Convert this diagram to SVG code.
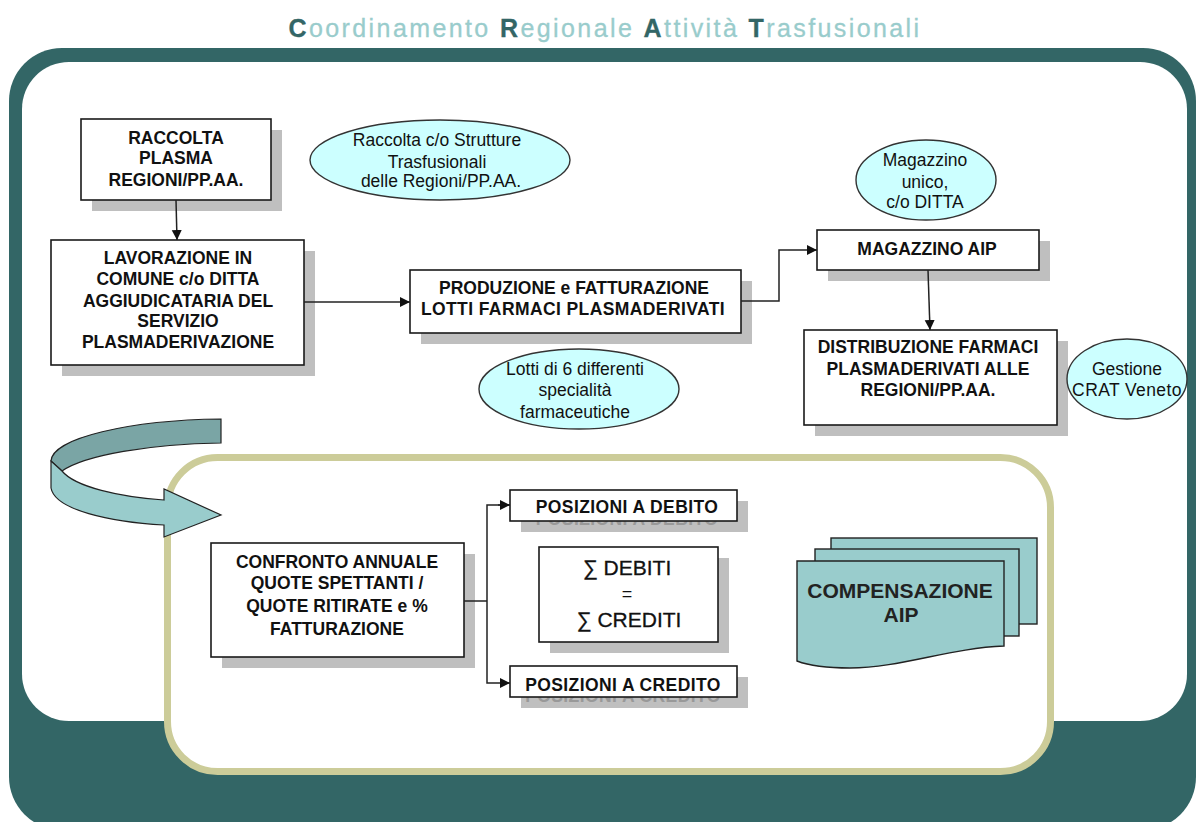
<svg xmlns="http://www.w3.org/2000/svg" width="1196" height="822" viewBox="0 0 1196 822">
<style>
text{font-family:"Liberation Sans",Arial,sans-serif;text-anchor:middle;fill:#111}
.b{font-weight:bold;font-size:17.5px}
.n{font-size:17.5px}
.w{letter-spacing:.4px}
.box{fill:#fff;stroke:#1a1a1a;stroke-width:1.6}
.sh{fill:#bfbfbf}
.el{fill:#ccffff;stroke:#333;stroke-width:1.4}
.c{fill:none;stroke:#222;stroke-width:1.5}
.doc{fill:#99cccc;stroke:#222;stroke-width:1.4}
.cap{fill:#336666;stroke:#336666;font-weight:bold}
</style>
<defs><marker id="ah" markerUnits="userSpaceOnUse" markerWidth="11" markerHeight="11" refX="10" refY="5" orient="auto"><path d="M0,0L10,5L0,10Z" fill="#111"/></marker></defs>
<rect width="1196" height="822" fill="#fff"/>
<g id="title"><text x="605" y="37" font-size="25" letter-spacing="2.4" stroke="#99cccc" stroke-width=".3" style="fill:#99cccc"><tspan class="cap">C</tspan>oordinamento <tspan class="cap">R</tspan>egionale <tspan class="cap">A</tspan>ttività <tspan class="cap">T</tspan>rasfusionali</text></g>
<g id="frame">
<rect x="9" y="48" width="1187" height="782" rx="53" fill="#336666"/>
<rect x="22" y="62" width="1165" height="659" rx="47" fill="#fff"/>
<rect x="167.500" y="457.500" width="883" height="314" rx="50" fill="#fff" stroke="#cccc99" stroke-width="7"/>
</g>
<g id="cycle-arrow">
<path d="M221,419C130,420 52,438 51,461L62,471C85,455 150,444 221,443Z" fill="#7aa5a5" stroke="#222" stroke-width="1.2"/>
<path d="M51,461V488C55,510 110,522 164,525V537L221,515L164,489V500C120,497 75,487 62,471Z" fill="#99cccc" stroke="#222" stroke-width="1.2"/>
</g>
<g id="raccolta"><rect class="sh" x="92" y="130" width="190" height="81"/><rect class="box" x="81" y="119" width="190" height="81"/>
<text class="b" x="176" y="144">RACCOLTA</text><text class="b" x="176" y="164">PLASMA</text><text class="b" x="176" y="186">REGIONI/PP.AA.</text></g>
<g id="lavorazione"><rect class="sh" x="62" y="251" width="253" height="125"/><rect class="box" x="51" y="240" width="253" height="125"/>
<text class="b" x="178" y="264">LAVORAZIONE IN</text><text class="b" x="178" y="285">COMUNE c/o DITTA</text><text class="b" x="178" y="307">AGGIUDICATARIA DEL</text><text class="b" x="178" y="327">SERVIZIO</text><text class="b" x="178" y="348">PLASMADERIVAZIONE</text></g>
<g id="produzione"><rect class="sh" x="421" y="281" width="331" height="63"/><rect class="box" x="410" y="270" width="331" height="63"/>
<text class="b" x="574" y="294">PRODUZIONE e FATTURAZIONE</text><text class="b w" x="573" y="315">LOTTI FARMACI PLASMADERIVATI</text></g>
<g id="magazzino"><rect class="sh" x="828" y="241" width="222" height="40"/><rect class="box" x="817" y="230" width="222" height="40"/>
<text class="b" x="927" y="255">MAGAZZINO AIP</text></g>
<g id="distribuzione"><rect class="sh" x="815" y="341" width="253" height="95"/><rect class="box" x="804" y="330" width="253" height="95"/>
<text class="b" x="928" y="353">DISTRIBUZIONE FARMACI</text><text class="b" x="928" y="375">PLASMADERIVATI ALLE</text><text class="b" x="928" y="396">REGIONI/PP.AA.</text></g>
<g id="note-raccolta"><ellipse class="el" cx="440" cy="160" rx="130" ry="40"/>
<text class="n" x="437" y="146">Raccolta c/o Strutture</text><text class="n" x="437" y="168">Trasfusionali</text><text class="n" x="441" y="187">delle Regioni/PP.AA.</text></g>
<g id="note-magazzino"><ellipse class="el" cx="926" cy="180" rx="70" ry="40"/>
<text class="n" x="925" y="166">Magazzino</text><text class="n" x="925" y="188">unico,</text><text class="n" x="925" y="208">c/o DITTA</text></g>
<g id="note-lotti"><ellipse class="el" cx="579" cy="389" rx="100" ry="40"/>
<text class="n" x="575" y="375">Lotti di 6 differenti</text><text class="n" x="575" y="396">specialità</text><text class="n" x="575" y="418">farmaceutiche</text></g>
<g id="note-gestione"><ellipse class="el" cx="1127" cy="379" rx="60" ry="40"/>
<text class="n" x="1127" y="375">Gestione</text><text class="n w" x="1127" y="396">CRAT Veneto</text></g>
<g id="confronto"><rect class="sh" x="222" y="554" width="253" height="114"/><rect class="box" x="211" y="543" width="253" height="114"/>
<text class="b" x="337" y="568">CONFRONTO ANNUALE</text><text class="b" x="337" y="589">QUOTE SPETTANTI /</text><text class="b" x="337" y="612">QUOTE RITIRATE e %</text><text class="b" x="337" y="635">FATTURAZIONE</text></g>
<g id="debito"><rect class="sh" x="521" y="501" width="227" height="31"/><text class="b w" x="627" y="525" style="fill:#999">POSIZIONI A DEBITO</text><rect class="box" x="510" y="490" width="227" height="31"/>
<text class="b w" x="627" y="513">POSIZIONI A DEBITO</text></g>
<g id="sum"><rect class="sh" x="550" y="558" width="179" height="95"/><rect class="box" x="539" y="547" width="179" height="95"/>
<text x="627" y="575" font-size="21" stroke="#111" stroke-width=".3">∑ DEBITI</text><text x="627" y="600" font-size="18">=</text><text x="629" y="627" font-size="21" stroke="#111" stroke-width=".3">∑ CREDITI</text></g>
<g id="credito"><rect class="sh" x="521" y="677" width="227" height="31"/><text class="b w" x="623" y="702" style="fill:#999">POSIZIONI A CREDITO</text><rect class="box" x="510" y="666" width="227" height="31"/>
<text class="b w" x="623" y="691">POSIZIONI A CREDITO</text></g>
<g id="compensazione">
<rect class="doc" x="831" y="538" width="206" height="86"/>
<rect class="doc" x="815" y="549" width="204" height="87"/>
<path class="doc" d="M797,561H1004V646C950,648 900,668 850,668C825,668 810,666 797,661Z"/>
<text x="900" y="598" font-size="21" font-weight="bold" style="fill:#222">COMPENSAZIONE</text><text x="901" y="622" font-size="21" font-weight="bold" style="fill:#222">AIP</text>
</g>
<g id="connectors">
<path class="c" d="M176,200L177,240" marker-end="url(#ah)"/>
<path class="c" d="M304,302H410" marker-end="url(#ah)"/>
<path class="c" d="M741,301H779V250H817" marker-end="url(#ah)"/>
<path class="c" d="M928,270L930,330" marker-end="url(#ah)"/>
<path class="c" d="M464,601H487"/>
<path class="c" d="M510,505H487V683H510" marker-end="url(#ah)"/>
<path class="c" d="M498,505H510" marker-end="url(#ah)"/>
</g>
</svg>
